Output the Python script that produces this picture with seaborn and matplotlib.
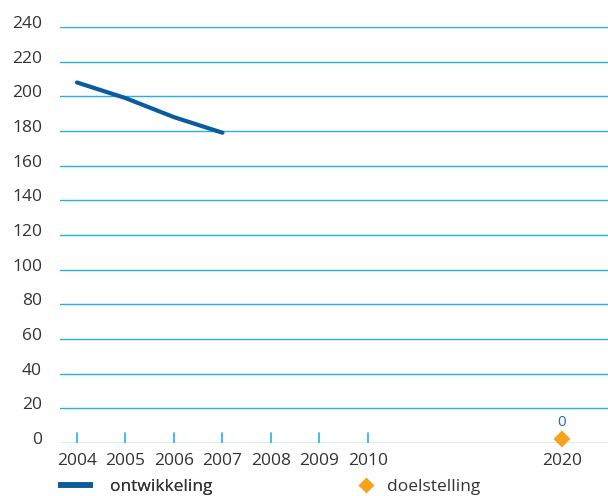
import matplotlib
matplotlib.use("Agg")
import matplotlib.pyplot as plt
import matplotlib.transforms as mtransforms
import seaborn as sns
import pandas as pd
from matplotlib.lines import Line2D

years_labels = ["2004", "2005", "2006", "2007", "2008", "2009", "2010", "2020"]
tick_positions = [0, 1, 2, 3, 4, 5, 6, 10]
dev_years = [0, 1, 2, 3]
dev_values = [208, 199, 188, 179]
goal_pos = [10]
goal_values = [0]
y_ticks = list(range(0, 241, 20))
legend_labels = ["ontwikkeling", "doelstelling"]

sns.set_theme(style="white")
plt.rcParams['font.family'] = ['Open Sans', 'DejaVu Sans']

fig = plt.figure(figsize=(6.08, 4.96), dpi=100)
ax = fig.add_axes([60/608, 53/496, 548/608, 416/496])

grid_col = "#23b2e6"
line_col = "#0b5c9e"
goal_col = "#f7a21b"
text_col = "#333333"
fs = 12.5

for v in y_ticks:
    ax.axhline(v, color=grid_col, lw=1.0, zorder=1)

df_dev = pd.DataFrame({"x": dev_years, "y": dev_values})
sns.lineplot(data=df_dev, x="x", y="y", ax=ax, color=line_col, lw=3, zorder=3)
df_goal = pd.DataFrame({"x": goal_pos, "y": goal_values})
sns.scatterplot(data=df_goal, x="x", y="y", ax=ax, marker="D", s=75, color=goal_col,
                edgecolor="none", zorder=4, clip_on=False)
up = mtransforms.ScaledTranslation(0, 4/100, fig.dpi_scale_trans)
ax.collections[-1].set_offset_transform(ax.transData + up)
for x, y in zip(goal_pos, goal_values):
    ax.annotate(str(y), (x, y), xytext=(0, 15), textcoords="offset points",
                ha="center", va="center", color="#1f6fb0", fontsize=11)

ax.set_xlim(-0.35, 10.95)
ax.set_ylim(0, 240)
ax.set_yticks(y_ticks)
ax.set_yticklabels([str(v) for v in y_ticks], color=text_col, fontsize=fs)
ax.set_xticks(tick_positions)
ax.set_xticklabels(years_labels, color=text_col, fontsize=fs)
ax.tick_params(axis="y", length=0, pad=13)
ax.tick_params(axis="x", length=0, pad=7)
for lab in ax.get_yticklabels():
    lab.set_transform(lab.get_transform() + mtransforms.ScaledTranslation(0, 5/100, fig.dpi_scale_trans))
for p in tick_positions[:-1]:
    ax.plot([p, p], [0, 6], color=grid_col, lw=1.2, zorder=2)
for s in ax.spines.values():
    s.set_visible(False)
ax.set_xlabel("")
ax.set_ylabel("")
ax.patch.set_alpha(0)

h_line = Line2D([0], [0], color=line_col, lw=4, solid_capstyle="butt")
h_goal = Line2D([0], [0], marker="D", color="none", markerfacecolor=goal_col,
                markeredgecolor="none", markersize=8)
leg1 = fig.legend([h_line], [legend_labels[0]], loc="center left",
                  bbox_to_anchor=(58/608, 1 - 487/496), frameon=False, fontsize=fs,
                  handlelength=2.0, labelcolor=text_col, handletextpad=1.0,
                  borderpad=0, borderaxespad=0)
fig.add_artist(leg1)
fig.legend([h_goal], [legend_labels[1]], loc="center left",
           bbox_to_anchor=(357/608, 1 - 487/496), frameon=False, fontsize=fs,
           handlelength=1.0, labelcolor=text_col, handletextpad=0.7,
           borderpad=0, borderaxespad=0)

fig.savefig("out.png", dpi=100)
